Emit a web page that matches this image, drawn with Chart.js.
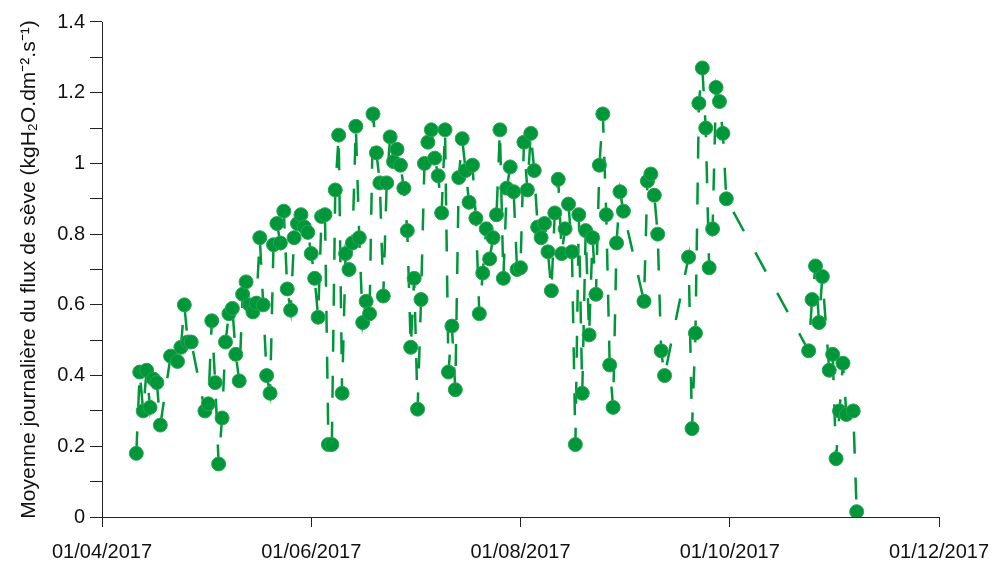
<!DOCTYPE html>
<html>
<head>
<meta charset="utf-8">
<script src="https://cdn.jsdelivr.net/npm/chart.js@4.4.0/dist/chart.umd.min.js"></script>
<style>
html,body{margin:0;padding:0;background:#ffffff;}
#wrap{width:992px;height:563px;position:relative;}
</style>
</head>
<body>
<div id="wrap"><canvas id="c" width="992" height="563"></canvas></div>
<script>
// ---- data ----
const dates = [
'2017-04-11','2017-04-12','2017-04-13','2017-04-14','2017-04-15','2017-04-16','2017-04-17','2017-04-18',
'2017-04-21','2017-04-23','2017-04-24','2017-04-25','2017-04-26','2017-04-27',
'2017-05-01','2017-05-02','2017-05-03','2017-05-04','2017-05-05','2017-05-06','2017-05-07','2017-05-08','2017-05-09','2017-05-10',
'2017-05-11','2017-05-12','2017-05-13','2017-05-14','2017-05-15','2017-05-16','2017-05-17','2017-05-18','2017-05-19','2017-05-20',
'2017-05-21','2017-05-22','2017-05-23','2017-05-24','2017-05-25','2017-05-26','2017-05-27','2017-05-28','2017-05-29','2017-05-30','2017-05-31',
'2017-06-01','2017-06-02','2017-06-03','2017-06-04','2017-06-05','2017-06-06','2017-06-07','2017-06-08','2017-06-09','2017-06-10',
'2017-06-11','2017-06-12','2017-06-13','2017-06-14','2017-06-15','2017-06-16','2017-06-17','2017-06-18','2017-06-19','2017-06-20',
'2017-06-21','2017-06-22','2017-06-23','2017-06-24','2017-06-25','2017-06-26','2017-06-27','2017-06-28','2017-06-29','2017-06-30',
'2017-07-01','2017-07-02','2017-07-03','2017-07-04','2017-07-05','2017-07-06','2017-07-07','2017-07-08','2017-07-09','2017-07-10',
'2017-07-11','2017-07-12','2017-07-13','2017-07-14','2017-07-15','2017-07-16','2017-07-17','2017-07-18','2017-07-19','2017-07-20',
'2017-07-21','2017-07-22','2017-07-23','2017-07-24','2017-07-25','2017-07-26','2017-07-27','2017-07-28','2017-07-29','2017-07-30','2017-07-31',
'2017-08-01','2017-08-02','2017-08-03','2017-08-04','2017-08-05','2017-08-06','2017-08-07','2017-08-08','2017-08-09','2017-08-10',
'2017-08-11','2017-08-12','2017-08-13','2017-08-14','2017-08-15','2017-08-16','2017-08-17','2017-08-18','2017-08-19','2017-08-20',
'2017-08-21','2017-08-22','2017-08-23','2017-08-24','2017-08-25','2017-08-26','2017-08-27','2017-08-28','2017-08-29','2017-08-30','2017-08-31',
'2017-09-06','2017-09-07','2017-09-08','2017-09-09','2017-09-10','2017-09-11','2017-09-12',
'2017-09-19','2017-09-20','2017-09-21','2017-09-22','2017-09-23','2017-09-24','2017-09-25','2017-09-26','2017-09-27','2017-09-28','2017-09-29','2017-09-30',
'2017-10-24','2017-10-25','2017-10-26','2017-10-27','2017-10-28','2017-10-30','2017-10-31',
'2017-11-01','2017-11-02','2017-11-03','2017-11-04','2017-11-06','2017-11-07'
];
const values = [
0.18,0.41,0.30,0.415,0.31,0.39,0.38,0.26,
0.455,0.44,0.48,0.60,0.495,0.495,
0.30,0.32,0.555,0.38,0.15,0.28,0.495,0.575,0.59,0.46,
0.385,0.63,0.665,0.60,0.58,0.605,0.79,0.60,0.40,0.35,
0.77,0.83,0.775,0.865,0.645,0.585,0.79,0.83,0.855,0.82,0.805,
0.745,0.675,0.565,0.85,0.855,0.205,0.205,0.925,1.08,0.35,
0.745,0.70,0.775,1.105,0.79,0.55,0.61,0.575,1.14,1.03,
0.945,0.625,0.945,1.075,1.005,1.04,0.995,0.93,0.81,0.48,
0.675,0.305,0.615,1.0,1.06,1.095,1.015,0.965,0.86,1.095,
0.41,0.54,0.36,0.96,1.07,0.98,0.89,0.995,0.845,0.575,
0.69,0.815,0.73,0.79,0.855,1.095,0.675,0.93,0.99,0.92,0.70,
0.705,1.06,0.925,1.085,0.98,0.82,0.79,0.83,0.75,0.64,
0.86,0.955,0.745,0.815,0.885,0.75,0.205,0.855,0.35,0.81,
0.515,0.79,0.63,0.995,1.14,0.855,0.43,0.31,0.775,0.92,0.865,
0.61,0.95,0.97,0.91,0.80,0.47,0.40,
0.735,0.25,0.52,1.17,1.27,1.10,0.705,0.815,1.215,1.175,1.085,0.90,
0.47,0.615,0.71,0.55,0.68,0.415,0.46,
0.165,0.30,0.435,0.29,0.30,0.015
];
const xTickLabels = ['01/04/2017','01/06/2017','01/08/2017','01/10/2017','01/12/2017'];
const yMin = 0, yMax = 1.4, yMinorStep = 0.1;
const yTitle = 'Moyenne journalière du flux de sève (kgH\u2082O.dm\u207B\u00B2.s\u207B\u00B9)';

// ---- helpers ----
const GREEN = '#00973A';
function parseISO(s){const p=s.split('-').map(Number);return Date.UTC(p[0],p[1]-1,p[2]);}
function parseFR(s){const p=s.split('/').map(Number);return Date.UTC(p[2],p[1]-1,p[0]);}
const xTickValues = xTickLabels.map(parseFR);
const points = dates.map((d,i)=>({x:parseISO(d), y:values[i]}));
const TICKFONT = {family:"'Liberation Sans', Arial, sans-serif", size:20};
const TITLEFONT = {family:"'Liberation Sans', Arial, sans-serif", size:21};

new Chart(document.getElementById('c').getContext('2d'), {
  type:'line',
  data:{datasets:[{
    data:points,
    borderColor:GREEN,
    borderWidth:2.5,
    borderDash:[22,24],
    tension:0,
    fill:false,
    pointRadius:7,
    pointHoverRadius:7,
    pointBackgroundColor:GREEN,
    pointBorderColor:'#2aa552',
    pointBorderWidth:1
  }]},
  options:{
    responsive:false,
    animation:false,
    events:[],
    layout:{padding:{left:0,right:53,top:22,bottom:0}},
    plugins:{legend:{display:false},tooltip:{enabled:false}},
    scales:{
      x:{
        type:'linear',
        min:xTickValues[0],
        max:xTickValues[xTickValues.length-1],
        afterBuildTicks:(s)=>{s.ticks = xTickValues.map(v=>({value:v}));},
        afterFit:(s)=>{s.height = 46; s.paddingLeft = 0; s.paddingRight = 0;},
        grid:{drawOnChartArea:false,drawTicks:true,tickLength:10,color:'#222',tickWidth:1},
        border:{display:true,color:'#222',width:1},
        ticks:{
          autoSkip:false,maxRotation:0,minRotation:0,
          callback:(v,i)=>xTickLabels[i],
          font:TICKFONT,color:'#111',padding:13
        }
      },
      y:{
        type:'linear',
        min:yMin,max:yMax,
        afterBuildTicks:(s)=>{
          const t=[];
          for(let k=0;k<=Math.round((yMax-yMin)/yMinorStep);k++){t.push({value:yMin+k*yMinorStep});}
          s.ticks=t;
        },
        afterFit:(s)=>{s.width = 102; s.paddingTop = 0; s.paddingBottom = 0;},
        grid:{drawOnChartArea:false,drawTicks:true,tickLength:12,color:'#222',tickWidth:1},
        border:{display:true,color:'#222',width:1},
        ticks:{
          autoSkip:false,
          callback:(v,i)=>{const r=Math.round(v*10);return (r%2===0)?String(r/10):'';},
          font:TICKFONT,color:'#111',padding:5
        },
        title:{display:true,text:yTitle,font:TITLEFONT,color:'#111',padding:{top:17,bottom:0}}
      }
    }
  }
});
</script>
</body>
</html>
